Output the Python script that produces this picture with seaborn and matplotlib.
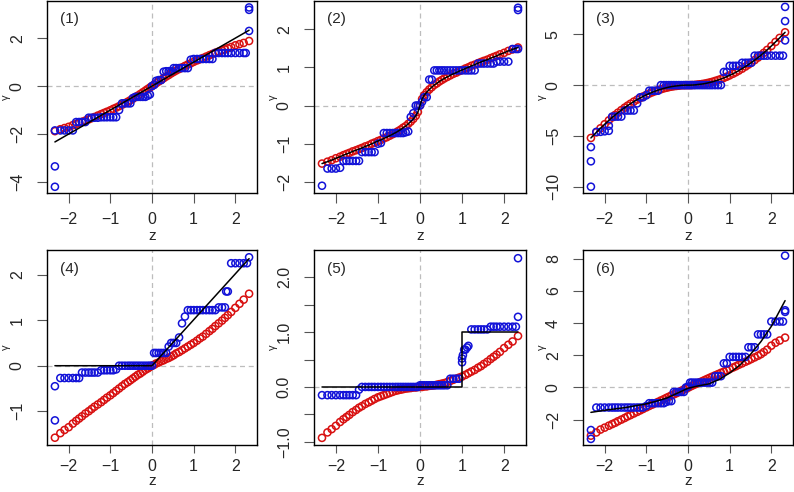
import matplotlib
matplotlib.use("Agg")
import matplotlib.pyplot as plt
import seaborn as sns

# normal quantiles, shared by all panels
Z = [-2.33, -2.2, -2.1, -2.0, -1.9, -1.82, -1.75, -1.68, -1.6, -1.52, -1.45, -1.38, -1.3,
     -1.22, -1.15, -1.08, -1.0, -0.93, -0.86, -0.79, -0.72, -0.65, -0.58, -0.52, -0.46, -0.4,
     -0.34, -0.28, -0.22, -0.16, -0.1, -0.05, 0.0, 0.05, 0.1, 0.16, 0.22, 0.28, 0.34,
     0.4, 0.46, 0.52, 0.58, 0.65, 0.72, 0.79, 0.86, 0.93, 1.0, 1.08, 1.15, 1.22,
     1.3, 1.38, 1.45, 1.52, 1.6, 1.68, 1.75, 1.82, 1.9, 2.0, 2.1, 2.2, 2.33]

# panel (1)
P1_RED = [-1.88, -1.8, -1.75, -1.7, -1.63, -1.58, -1.53, -1.49, -1.44, -1.39, -1.34, -1.29, -1.23,
          -1.17, -1.12, -1.07, -1.01, -0.95, -0.9, -0.84, -0.78, -0.71, -0.65, -0.59, -0.53, -0.46,
          -0.4, -0.33, -0.26, -0.19, -0.12, -0.06, 0.0, 0.06, 0.12, 0.19, 0.26, 0.33, 0.4,
          0.46, 0.53, 0.59, 0.65, 0.71, 0.78, 0.84, 0.9, 0.95, 1.01, 1.07, 1.12, 1.17,
          1.23, 1.29, 1.34, 1.39, 1.44, 1.49, 1.53, 1.58, 1.63, 1.7, 1.75, 1.8, 1.88]
P1_BLUE = [-1.85, -1.85, -1.85, -1.85, -1.85, -1.5, -1.5, -1.5, -1.5, -1.32, -1.32, -1.32, -1.32,
           -1.3, -1.3, -1.3, -1.3, -1.3, -1.3, -1.0, -0.72, -0.72, -0.72, -0.72, -0.5, -0.45,
           -0.45, -0.45, -0.45, -0.45, -0.4, -0.35, 0.0, 0.05, 0.22, 0.25, 0.25, 0.6, 0.62,
           0.62, 0.62, 0.75, 0.75, 0.75, 0.75, 0.75, 0.75, 1.1, 1.13, 1.13, 1.13, 1.13,
           1.13, 1.13, 1.13, 1.38, 1.38, 1.38, 1.38, 1.38, 1.38, 1.38, 1.38, 1.38, 2.3]
P1_EXTRA_Z = [-2.33, -2.33, 2.25, 2.33, 2.33]
P1_EXTRA_Y = [-3.35, -4.2, 1.38, 3.18, 3.28]
P1_LINE_Z = [-2.33, 2.33]
P1_LINE_Y = [-2.33, 2.33]

# panel (2)
P2_RED = [-1.52, -1.47, -1.43, -1.38, -1.34, -1.3, -1.27, -1.24, -1.2, -1.17, -1.14, -1.11, -1.07,
          -1.04, -1.0, -0.97, -0.93, -0.9, -0.86, -0.83, -0.79, -0.75, -0.71, -0.67, -0.63, -0.58,
          -0.54, -0.48, -0.42, -0.35, -0.27, -0.17, 0.0, 0.17, 0.27, 0.35, 0.42, 0.48, 0.54,
          0.58, 0.63, 0.67, 0.71, 0.75, 0.79, 0.83, 0.86, 0.9, 0.93, 0.97, 1.0, 1.04,
          1.07, 1.11, 1.14, 1.17, 1.2, 1.24, 1.27, 1.3, 1.34, 1.38, 1.43, 1.47, 1.52]
P2_BLUE = [-2.1, -1.65, -1.65, -1.65, -1.63, -1.45, -1.45, -1.45, -1.45, -1.45, -1.45, -1.22, -1.22,
           -1.22, -1.22, -1.22, -1.0, -0.98, -0.72, -0.72, -0.72, -0.72, -0.72, -0.72, -0.72, -0.72,
           -0.7, -0.68, -0.3, -0.2, 0.0, 0.0, 0.0, 0.1, 0.22, 0.22, 0.68, 0.68, 0.92,
           0.92, 0.92, 0.92, 0.92, 0.92, 0.92, 0.92, 0.92, 0.92, 0.92, 0.92, 0.92, 0.92,
           0.92, 1.1, 1.1, 1.1, 1.1, 1.1, 1.1, 1.15, 1.15, 1.15, 1.15, 1.48, 1.48]
P2_EXTRA_Z = [2.28, 2.33, 2.33]
P2_EXTRA_Y = [1.48, 2.5, 2.56]
P2_LINE_Z = Z
P2_LINE_Y = P2_RED

# panel (3)
P3_RED = [-5.2, -4.65, -4.25, -3.85, -3.47, -3.18, -2.94, -2.71, -2.46, -2.22, -2.02, -1.83, -1.62,
          -1.43, -1.27, -1.12, -0.96, -0.83, -0.71, -0.6, -0.5, -0.41, -0.32, -0.26, -0.2, -0.15,
          -0.11, -0.08, -0.05, -0.02, -0.01, 0.0, 0.0, 0.0, 0.01, 0.02, 0.05, 0.08, 0.11,
          0.15, 0.2, 0.26, 0.32, 0.41, 0.5, 0.6, 0.71, 0.83, 0.96, 1.12, 1.27, 1.43,
          1.62, 1.83, 2.02, 2.22, 2.46, 2.71, 2.94, 3.18, 3.47, 3.85, 4.25, 4.65, 5.2]
P3_BLUE = [-6.1, -4.6, -4.6, -4.55, -4.0, -3.1, -3.1, -3.1, -3.1, -2.5, -2.5, -2.5, -2.5,
           -1.8, -1.2, -1.2, -1.0, -0.55, -0.55, -0.55, -0.55, 0.0, 0.0, 0.0, 0.0, 0.0,
           0.0, 0.0, 0.0, 0.0, 0.0, 0.0, 0.0, 0.0, 0.0, 0.0, 0.0, 0.0, 0.0,
           0.0, 0.0, 0.0, 0.0, 0.0, 0.0, 0.0, 1.3, 1.3, 1.9, 1.9, 1.9, 1.9,
           2.2, 2.2, 2.2, 2.2, 2.9, 2.9, 2.9, 2.9, 2.9, 2.9, 2.9, 2.9, 4.4]
P3_EXTRA_Z = [-2.33, -2.33, -1.9, 2.28, 2.33, 2.33]
P3_EXTRA_Y = [-7.5, -10.0, -4.5, 2.9, 6.3, 7.7]
P3_LINE_Z = Z
P3_LINE_Y = P3_RED

# panel (4)
P4_RED = [-1.58, -1.48, -1.41, -1.35, -1.27, -1.21, -1.16, -1.11, -1.05, -1.0, -0.95, -0.9, -0.85,
          -0.8, -0.75, -0.7, -0.65, -0.6, -0.55, -0.5, -0.45, -0.4, -0.36, -0.32, -0.28, -0.24,
          -0.2, -0.17, -0.13, -0.09, -0.06, -0.03, 0.0, 0.02, 0.05, 0.07, 0.1, 0.12, 0.15,
          0.17, 0.2, 0.23, 0.27, 0.3, 0.34, 0.38, 0.42, 0.46, 0.5, 0.55, 0.6, 0.64,
          0.7, 0.76, 0.81, 0.87, 0.93, 0.99, 1.05, 1.11, 1.18, 1.27, 1.36, 1.45, 1.58]
P4_BLUE = [-0.45, -0.27, -0.27, -0.27, -0.27, -0.27, -0.27, -0.15, -0.15, -0.15, -0.15, -0.15, -0.15,
           -0.1, -0.1, -0.1, -0.1, -0.1, -0.08, 0.0, 0.0, 0.0, 0.0, 0.0, 0.0, 0.0,
           0.0, 0.0, 0.0, 0.0, 0.0, 0.0, 0.0, 0.28, 0.28, 0.28, 0.28, 0.28, 0.28,
           0.42, 0.5, 0.5, 0.5, 0.62, 0.93, 1.08, 1.22, 1.22, 1.22, 1.22, 1.22, 1.22,
           1.22, 1.22, 1.22, 1.22, 1.28, 1.28, 1.28, 1.63, 2.25, 2.25, 2.25, 2.25, 2.38]
P4_EXTRA_Z = [-2.33, 1.78, 2.28]
P4_EXTRA_Y = [-1.2, 1.63, 2.25]
P4_LINE_Z = [-2.33, 0.0, 2.33]
P4_LINE_Y = [0.0, 0.0, 2.35]

# panel (5)
P5_RED = [-0.93, -0.83, -0.77, -0.71, -0.64, -0.59, -0.55, -0.51, -0.46, -0.42, -0.38, -0.35, -0.31,
          -0.28, -0.25, -0.22, -0.19, -0.17, -0.15, -0.13, -0.11, -0.09, -0.07, -0.06, -0.05, -0.04,
          -0.03, -0.025, -0.02, -0.01, -0.01, 0.0, 0.0, 0.0, 0.01, 0.01, 0.02, 0.025, 0.03,
          0.04, 0.05, 0.06, 0.07, 0.09, 0.11, 0.13, 0.15, 0.17, 0.19, 0.22, 0.25, 0.28,
          0.31, 0.35, 0.38, 0.42, 0.46, 0.51, 0.55, 0.59, 0.64, 0.71, 0.77, 0.83, 0.93]
P5_BLUE = [-0.15, -0.15, -0.15, -0.15, -0.15, -0.15, -0.15, -0.15, -0.15, -0.15, -0.05, 0.0, 0.0,
           0.0, 0.0, 0.0, 0.0, 0.0, 0.0, 0.0, 0.0, 0.0, 0.0, 0.0, 0.0, 0.0,
           0.0, 0.0, 0.0, 0.0, 0.0, 0.0, 0.03, 0.03, 0.03, 0.03, 0.03, 0.03, 0.03,
           0.03, 0.03, 0.03, 0.03, 0.03, 0.15, 0.15, 0.15, 0.15, 0.52, 0.68, 0.75, 1.05,
           1.05, 1.05, 1.05, 1.05, 1.05, 1.1, 1.1, 1.1, 1.1, 1.1, 1.1, 1.1, 1.28]
P5_EXTRA_Z = [1.0, 1.02, 1.05, 1.12, 2.28, 2.33]
P5_EXTRA_Y = [0.45, 0.58, 0.68, 0.72, 1.1, 2.35]
P5_LINE_Z = [-2.33, 1.0, 1.0, 2.33]
P5_LINE_Y = [0.0, 0.0, 1.0, 1.0]

# panel (6)
P6_RED = [-3.0, -2.8, -2.62, -2.5, -2.38, -2.28, -2.2, -2.1, -2.0, -1.9, -1.8, -1.72, -1.62,
          -1.52, -1.43, -1.34, -1.24, -1.15, -1.07, -0.98, -0.9, -0.81, -0.73, -0.65, -0.58, -0.5,
          -0.43, -0.36, -0.28, -0.21, -0.13, -0.07, -0.02, 0.05, 0.11, 0.18, 0.25, 0.32, 0.39,
          0.46, 0.53, 0.6, 0.67, 0.75, 0.83, 0.91, 0.98, 1.06, 1.14, 1.24, 1.32, 1.41,
          1.5, 1.6, 1.68, 1.77, 1.87, 1.97, 2.07, 2.2, 2.35, 2.6, 2.78, 2.92, 3.1]
P6_BLUE = [-2.65, -1.25, -1.25, -1.25, -1.25, -1.25, -1.25, -1.25, -1.25, -1.25, -1.25, -1.25, -1.25,
           -1.25, -1.25, -1.25, -1.15, -0.98, -0.98, -0.98, -0.98, -0.98, -0.98, -0.9, -0.85, -0.85,
           -0.28, -0.28, -0.28, -0.28, -0.28, 0.0, 0.05, 0.3, 0.3, 0.3, 0.3, 0.3, 0.3,
           0.3, 0.3, 0.3, 0.3, 0.7, 0.7, 0.7, 1.5, 1.5, 1.9, 1.9, 1.9, 1.9,
           1.9, 1.9, 2.5, 2.5, 2.5, 3.3, 3.3, 3.3, 3.3, 4.1, 4.1, 4.1, 4.7]
P6_EXTRA_Z = [-2.33, 2.28, 2.33, 2.33]
P6_EXTRA_Y = [-3.2, 4.1, 4.8, 8.2]
P6_LINE_Z = [-2.33, -2.0, -1.5, -1.0, -0.75, -0.5, -0.25, 0.0, 0.25, 0.5, 0.75,
             1.0, 1.25, 1.5, 1.75, 2.0, 2.33]
P6_LINE_Y = [-1.55, -1.42, -1.25, -1.02, -0.85, -0.65, -0.35, -0.05, 0.1, 0.22, 0.5,
             0.9, 1.4, 2.06, 2.85, 3.8, 5.4]

X_TICKS = [-2, -1, 0, 1, 2]
Y_TICKS = [[-4, -2, 0, 2], [-2, -1, 0, 1, 2], [-10, -5, 0, 5],
           [-1, 0, 1, 2], [-1.0, -0.5, 0.0, 0.5, 1.0, 1.5, 2.0], [-2, 0, 2, 4, 6, 8]]
Y_TICK_LABELS = [["-4", "-2", "0", "2"], ["-2", "-1", "0", "1", "2"], ["-10", "-5", "0", "5"],
                 ["-1", "0", "1", "2"], ["-1.0", "", "0.0", "", "1.0", "", "2.0"],
                 ["-2", "0", "2", "4", "6", "8"]]
Y_LIMS = [(-4.46, 3.57), (-2.29, 2.75), (-10.62, 8.33), (-1.74, 2.54), (-1.06, 2.5), (-3.58, 8.55)]
PANEL_NAMES = ["(1)", "(2)", "(3)", "(4)", "(5)", "(6)"]

RED = "#d81010"
BLUE = "#1212d8"

panels = [
    (P1_RED, P1_BLUE, P1_EXTRA_Z, P1_EXTRA_Y, P1_LINE_Z, P1_LINE_Y),
    (P2_RED, P2_BLUE, P2_EXTRA_Z, P2_EXTRA_Y, P2_LINE_Z, P2_LINE_Y),
    (P3_RED, P3_BLUE, P3_EXTRA_Z, P3_EXTRA_Y, P3_LINE_Z, P3_LINE_Y),
    (P4_RED, P4_BLUE, P4_EXTRA_Z, P4_EXTRA_Y, P4_LINE_Z, P4_LINE_Y),
    (P5_RED, P5_BLUE, P5_EXTRA_Z, P5_EXTRA_Y, P5_LINE_Z, P5_LINE_Y),
    (P6_RED, P6_BLUE, P6_EXTRA_Z, P6_EXTRA_Y, P6_LINE_Z, P6_LINE_Y),
]

sns.set_style("ticks")
plt.rcParams["font.family"] = ["Liberation Sans", "DejaVu Sans"]

W, H = 794, 492
fig = plt.figure(figsize=(W / 100, H / 100), dpi=100)

# axes boxes in pixels: (left, right), (top, bottom)
cols = [(47, 257), (314, 526), (583, 793)]
rows = [(0.5, 193), (250, 445)]
# bottom row is squeezed so "z" stays inside the picture
xlabel_gap = [36, 29]
xtick_len = [7, 6]
xtick_pad = [7, 4]

for i, (red, blue, ez, ey, lz, ly) in enumerate(panels):
    r = i // 3
    (x0, x1), (y0, y1) = cols[i % 3], rows[r]
    ax = fig.add_axes([x0 / W, 1 - y1 / H, (x1 - x0) / W, (y1 - y0) / H])

    ax.axhline(0, color="#bdbdbd", lw=0.9, ls=(0, (4, 3)), zorder=0)
    ax.axvline(0, color="#bdbdbd", lw=0.9, ls=(0, (4, 3)), zorder=0)

    sns.scatterplot(x=Z, y=red, ax=ax, marker="o", s=26, color=RED,
                    facecolor="none", edgecolor=RED, linewidth=1.1, zorder=2)
    sns.scatterplot(x=Z + ez, y=blue + ey, ax=ax, marker="o", s=26, color=BLUE,
                    facecolor="none", edgecolor=BLUE, linewidth=1.1, zorder=3)
    sns.lineplot(x=lz, y=ly, ax=ax, color="black", lw=1.1, sort=False,
                 estimator=None, zorder=4)

    ax.set_xlim(-2.52, 2.52)
    ax.set_ylim(*Y_LIMS[i])
    ax.set_xticks(X_TICKS)
    ax.set_xticklabels([str(t).replace("-", "\u2212") for t in X_TICKS])
    ax.set_yticks(Y_TICKS[i])
    ax.set_yticklabels([t.replace("-", "\u2212") for t in Y_TICK_LABELS[i]])
    ax.tick_params(axis="both", width=0.8, color="#555555", labelsize=11.5)
    ax.tick_params(axis="x", length=xtick_len[r], pad=xtick_pad[r])
    ax.tick_params(axis="y", length=7, pad=9)
    for lbl in ax.get_yticklabels():
        lbl.set_rotation(90)
        lbl.set_va("center")
    for sp in ax.spines.values():
        sp.set_visible(True)
        sp.set_linewidth(1.0)
        sp.set_color("black")

    ax.set_xlabel("z", fontsize=11)
    ax.set_ylabel("\u03b3", fontsize=8)
    ax.xaxis.set_label_coords(0.5, -xlabel_gap[r] / (y1 - y0))
    ax.yaxis.set_label_coords(-36 / (x1 - x0), 0.5)
    ax.text(0.06, 0.905, PANEL_NAMES[i], transform=ax.transAxes, fontsize=11,
            ha="left", va="center")

fig.savefig("out.png", dpi=100)
